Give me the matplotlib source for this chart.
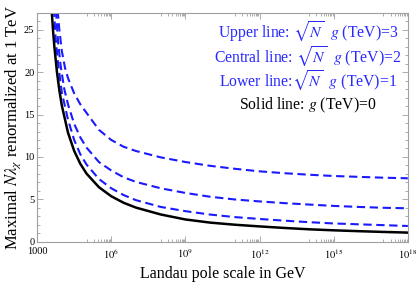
import numpy as np
import matplotlib
matplotlib.use("Agg")
import matplotlib.pyplot as plt
from matplotlib.ticker import FixedLocator, FixedFormatter, MultipleLocator

plt.rcParams['font.family'] = ['Liberation Serif', 'DejaVu Serif']
plt.rcParams['mathtext.fontset'] = 'stix'

# log10 of Landau pole scale (GeV) and maximal N*lambda
solid_exp = [3.58, 3.65, 3.7, 3.8, 3.9, 4.0, 4.25, 4.5, 4.75, 5, 5.5, 6, 6.5, 7,
             8, 9, 10, 11, 12, 13, 14, 15, 16, 17, 18]
solid_val = [27.7, 24.7, 22.96, 20.09, 17.86, 16.07, 12.86, 10.71, 9.18, 8.03, 6.43,
             5.36, 4.59, 4.02, 3.21, 2.62, 2.25, 2.0, 1.8, 1.62, 1.46, 1.34, 1.24,
             1.15, 1.07]

lower_exp = [3.68, 3.75, 3.85, 4.0, 4.25, 4.5, 4.75, 5, 5.5, 6, 6.5, 7, 8, 9, 10,
             11, 12, 13, 14, 15, 16, 17, 18]
lower_val = [27.5, 24.0, 21.0, 17.6, 14.4, 12.0, 10.3, 9.1, 7.4, 6.3, 5.5, 4.9, 4.1,
             3.6, 3.2, 2.9, 2.68, 2.48, 2.3, 2.15, 2.05, 1.95, 1.85]

central_exp = [3.76, 3.85, 3.95, 4.1, 4.25, 4.5, 4.75, 5, 5.5, 6, 6.5, 7, 8, 9, 10,
               11, 12, 13, 14, 15, 16, 17, 18]
central_val = [27.3, 23.5, 20.8, 18.0, 16.2, 13.9, 12.3, 11.1, 9.4, 8.4, 7.6, 7.05, 6.3,
               5.75, 5.3, 4.98, 4.75, 4.55, 4.38, 4.22, 4.1, 4.0, 3.94]

upper_exp = [3.83, 3.9, 4.0, 4.13, 4.25, 4.5, 4.75, 5, 5.5, 6, 6.5, 7, 8, 9, 10, 11,
             12, 13, 14, 15, 16, 17, 18]
upper_val = [27.3, 25.0, 22.5, 20.5, 19.3, 17.5, 16.2, 15.2, 13.2, 12.0, 11.2, 10.7,
             9.95, 9.4, 8.95, 8.6, 8.3, 8.08, 7.9, 7.75, 7.65, 7.55, 7.48]

xtick_exp = [3, 6, 9, 12, 15, 18]
xtick_labels = ['1000', '$10^6$', '$10^9$', '$10^{12}$', '$10^{15}$', '$10^{18}$']

legend_lines = [r'Upper line: $\sqrt{N}$  $g$ (TeV)=3',
                r'Central line: $\sqrt{N}$  $g$ (TeV)=2',
                r'Lower line:$\sqrt{N}$  $g$ (TeV)=1',
                r'Solid line: $g$ (TeV)=0']
legend_colors = ['#2828ff', '#2828ff', '#2828ff', 'black']

fig = plt.figure(figsize=(4.17, 2.86), dpi=100)
ax = fig.add_axes([0.089, 0.155, 0.889, 0.80])

blue = '#1a1aff'
for e, v in [(upper_exp, upper_val), (central_exp, central_val), (lower_exp, lower_val)]:
    ax.plot(10.0 ** np.array(e), v, color=blue, lw=1.5, dashes=(4, 2.2))
ax.plot(10.0 ** np.array(solid_exp), solid_val, color='black', lw=1.8)

ax.set_xscale('log')
ax.set_xlim(1e3, 1e18)
ax.set_ylim(0, 27)

ax.xaxis.set_major_locator(FixedLocator([10.0 ** k for k in xtick_exp]))
ax.xaxis.set_major_formatter(FixedFormatter(xtick_labels))
minors = [m * 10.0 ** (k - 1) for k in xtick_exp[1:] for m in range(1, 10)]
ax.xaxis.set_minor_locator(FixedLocator(minors))
ax.xaxis.set_minor_formatter(FixedFormatter([''] * len(minors)))
ax.yaxis.set_major_locator(MultipleLocator(5))
ax.yaxis.set_minor_locator(MultipleLocator(1))

for s in ax.spines.values():
    s.set_color('#a0a0a0')
    s.set_linewidth(0.8)
ax.tick_params(which='both', direction='in', top=True, right=True,
               color='#a0a0a0', width=0.6, labelsize=7.5, pad=2)
ax.tick_params(which='major', length=4)
ax.tick_params(which='minor', length=2)
ax.tick_params(axis='x', pad=4)

ax.set_xlabel('Landau pole scale in GeV', fontsize=11.5, labelpad=4)
ax.set_ylabel(r'Maximal $N\lambda_\chi$ renormalized at 1 TeV', fontsize=12, labelpad=1)

for i, (txt, c) in enumerate(zip(legend_lines, legend_colors)):
    fig.text(308 / 417, 1 - (32 + 24.5 * i) / 286, txt, color=c, fontsize=11.3,
             ha='center', va='center')

fig.savefig('out.png', dpi=100)
